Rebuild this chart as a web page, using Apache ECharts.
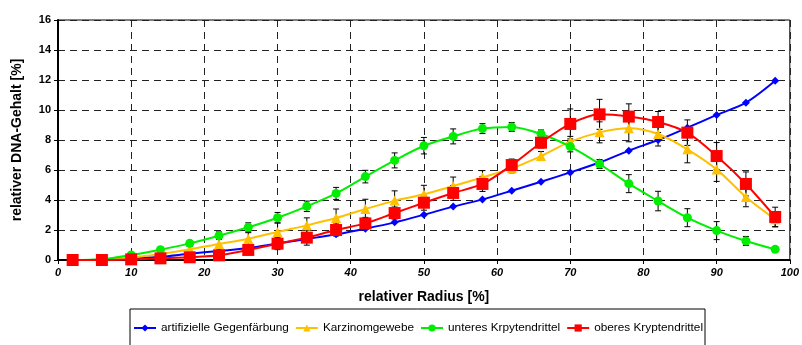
<!DOCTYPE html>
<html>
<head>
<meta charset="utf-8">
<script src="https://cdn.jsdelivr.net/npm/echarts@6/dist/echarts.min.js"></script>
<style>
  html, body { margin: 0; padding: 0; background: #fff; }
  #chart { width: 802px; height: 345px; }
</style>
</head>
<body>
<div id="chart"></div>
<script>
// relativer Radius [%]
const radius = [2, 6, 10, 14, 18, 22, 26, 30, 34, 38, 42, 46, 50, 54, 58, 62, 66, 70, 74, 78, 82, 86, 90, 94, 98];

// relativer DNA-Gehalt [%]
const artifiziell = [0, 0.02, 0.1, 0.22, 0.42, 0.6, 0.8, 1.1, 1.4, 1.71, 2.09, 2.51, 3.02, 3.56, 4.04, 4.62, 5.22, 5.84, 6.5, 7.29, 8.0, 8.82, 9.67, 10.49, 11.95];
const karzinom = [0, 0.02, 0.16, 0.4, 0.71, 1.07, 1.42, 1.87, 2.31, 2.8, 3.4, 3.96, 4.38, 4.93, 5.51, 6.11, 6.93, 7.89, 8.51, 8.78, 8.4, 7.38, 6.04, 4.2, 2.71];
const unteres = [0, 0.05, 0.33, 0.69, 1.11, 1.62, 2.18, 2.82, 3.58, 4.44, 5.56, 6.64, 7.62, 8.24, 8.76, 8.87, 8.4, 7.56, 6.4, 5.09, 3.93, 2.82, 1.96, 1.27, 0.71];
const oberes = [0, 0, 0.04, 0.11, 0.18, 0.31, 0.67, 1.09, 1.49, 2.0, 2.44, 3.13, 3.82, 4.47, 5.07, 6.33, 7.82, 9.07, 9.71, 9.56, 9.2, 8.49, 6.93, 5.07, 2.87];

// error bar half lengths
const karzinomErr = [0, 0.05, 0.1, 0.15, 0.2, 0.3, 0.4, 0.6, 0.5, 0.6, 0.65, 0.65, 0.6, 0.6, 0.45, 0.3, 0.3, 0.35, 0.7, 0.9, 0.8, 0.9, 0.8, 0.65, 0.5];
const unteresErr = [0, 0.05, 0.1, 0.12, 0.15, 0.25, 0.3, 0.35, 0.35, 0.4, 0.42, 0.5, 0.55, 0.5, 0.33, 0.3, 0.27, 0.35, 0.3, 0.6, 0.65, 0.6, 0.6, 0.3, 0.15];
const oberesErr = [0, 0, 0.05, 0.08, 0.1, 0.15, 0.25, 0.4, 0.5, 0.4, 0.4, 0.4, 0.5, 0.5, 0.5, 0.4, 0.35, 1.0, 1.0, 0.85, 0.7, 0.85, 0.9, 0.8, 0.65];

const pairs = vals => radius.map((r, i) => [r, vals[i]]);
const errData = (vals, err) => radius.map((r, i) => [r, vals[i] - err[i], vals[i] + err[i]]);

function renderErr(params, api) {
  const x = api.value(0);
  const lo = api.coord([x, api.value(1)]);
  const hi = api.coord([x, api.value(2)]);
  const cap = 3;
  const style = { stroke: '#000', lineWidth: 1 };
  return {
    type: 'group',
    children: [
      { type: 'line', shape: { x1: lo[0], y1: lo[1], x2: hi[0], y2: hi[1] }, style: style },
      { type: 'line', shape: { x1: lo[0] - cap, y1: lo[1], x2: lo[0] + cap, y2: lo[1] }, style: style },
      { type: 'line', shape: { x1: hi[0] - cap, y1: hi[1], x2: hi[0] + cap, y2: hi[1] }, style: style }
    ]
  };
}

function errSeries(vals, err) {
  return {
    type: 'custom',
    renderItem: renderErr,
    data: errData(vals, err),
    encode: { x: 0, y: [1, 2] },
    silent: true,
    z: 1
  };
}

const chart = echarts.init(document.getElementById('chart'));
const font = 'Liberation Sans, Arial, sans-serif';

chart.setOption({
  animation: false,
  textStyle: { fontFamily: font },
  grid: {
    left: 58, right: 12, top: 20, bottom: 85,
    show: true, borderColor: '#000', borderWidth: 1
  },
  legend: {
    data: ['artifizielle Gegenfärbung', 'Karzinomgewebe', 'unteres Krpytendrittel', 'oberes Kryptendrittel'],
    left: 130, top: 309,
    padding: [13, 2, 24, 3],
    borderColor: '#000', borderWidth: 1,
    itemWidth: 22, itemHeight: 9, itemGap: 6,
    textStyle: { fontSize: 11.8, color: '#000', fontFamily: font }
  },
  xAxis: {
    type: 'value', min: 0, max: 100, interval: 10,
    name: 'relativer Radius [%]', nameLocation: 'middle', nameGap: 30,
    nameTextStyle: { fontSize: 14, fontWeight: 'bold', color: '#000' },
    axisLine: { lineStyle: { color: '#000', width: 2 } },
    axisTick: { show: true, length: 4, lineStyle: { color: '#000' } },
    axisLabel: { fontSize: 11, fontWeight: 'bold', fontStyle: 'italic', color: '#000', margin: 7 },
    splitLine: { show: true, lineStyle: { color: '#222', type: [7, 5], width: 1 } }
  },
  yAxis: {
    type: 'value', min: 0, max: 16, interval: 2,
    name: 'relativer DNA-Gehalt [%]', nameLocation: 'middle', nameGap: 34,
    nameTextStyle: { fontSize: 14, fontWeight: 'bold', color: '#000' },
    axisLine: { show: true, lineStyle: { color: '#000', width: 2 } },
    axisTick: { show: true, length: 4, lineStyle: { color: '#000' } },
    axisLabel: { fontSize: 11, fontWeight: 'bold', color: '#000', margin: 7 },
    splitLine: { show: true, lineStyle: { color: '#222', type: [7, 5], width: 1 } }
  },
  series: [
    errSeries(karzinom, karzinomErr),
    errSeries(unteres, unteresErr),
    errSeries(oberes, oberesErr),
    {
      name: 'artifizielle Gegenfärbung', type: 'line', smooth: 0.3,
      data: pairs(artifiziell),
      symbol: 'diamond', symbolSize: 8,
      itemStyle: { color: '#0000ff' }, lineStyle: { color: '#0000ff', width: 2 }, z: 3
    },
    {
      name: 'Karzinomgewebe', type: 'line', smooth: 0.3,
      data: pairs(karzinom),
      symbol: 'triangle', symbolSize: 10,
      itemStyle: { color: '#ffc000' }, lineStyle: { color: '#ffc000', width: 2 }, z: 4
    },
    {
      name: 'unteres Krpytendrittel', type: 'line', smooth: 0.3,
      data: pairs(unteres),
      symbol: 'circle', symbolSize: 9,
      itemStyle: { color: '#00ee00' }, lineStyle: { color: '#00ee00', width: 2 }, z: 5
    },
    {
      name: 'oberes Kryptendrittel', type: 'line', smooth: 0.3,
      data: pairs(oberes),
      symbol: 'rect', symbolSize: 12,
      itemStyle: { color: '#ff0000' }, lineStyle: { color: '#ff0000', width: 2 }, z: 6
    }
  ]
});
</script>
</body>
</html>
